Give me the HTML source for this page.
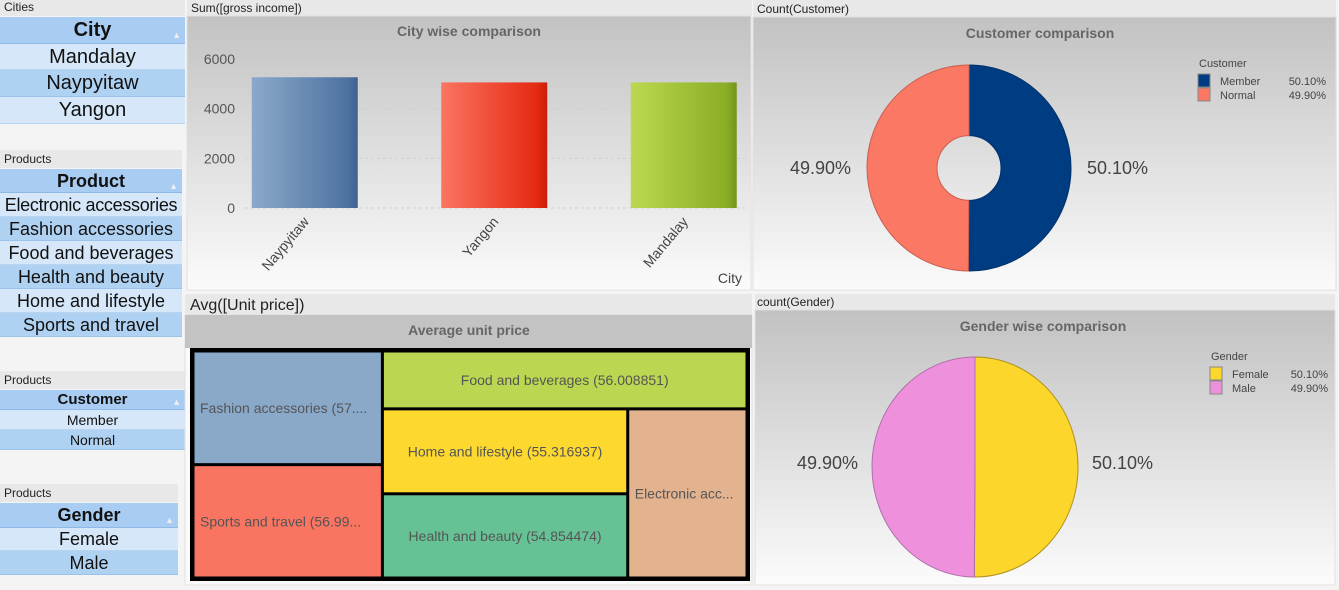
<!DOCTYPE html>
<html><head><meta charset="utf-8">
<style>
body{margin:0;width:1339px;height:590px;overflow:hidden;background:#f4f4f4;font-family:"Liberation Sans",sans-serif;position:relative}
.a{position:absolute;box-sizing:border-box}
.cap{font-size:12px;color:#222;background:#e8e8e8;padding-left:4px;line-height:15px}
.lb{text-align:center;color:#111;white-space:nowrap;overflow:hidden}
.hd{background:#a9cdf2;font-weight:bold;border-bottom:1px solid #8fb8e6}
.l1{background:#d5e7f8;border-bottom:1px solid #b9d4ef}
.l2{background:#b0d2f2;border-bottom:1px solid #9cc2ea}
.arr{position:absolute;right:4px;top:5px;font-size:9px;color:#eee;font-weight:normal}
</style></head><body>
<div class="a cap" style="left:0;top:0;width:185px;height:16px">Cities</div>
<div class="a lb hd" style="left:0;top:17px;width:185px;height:27px;font-size:20px;line-height:26px">City<span class="arr">▲</span></div>
<div class="a lb l1" style="left:0;top:44px;width:185px;height:26px;font-size:20px;line-height:26px">Mandalay</div>
<div class="a lb l2" style="left:0;top:70px;width:185px;height:27px;font-size:20px;line-height:27px">Naypyitaw</div>
<div class="a lb l1" style="left:0;top:97px;width:185px;height:27px;font-size:20px;line-height:27px">Yangon</div>
<div class="a cap" style="left:0;top:150px;width:182px;height:18px;line-height:18px">Products</div>
<div class="a lb hd" style="left:0;top:169px;width:182px;height:24px;font-size:18px;line-height:24px">Product<span class="arr">▲</span></div>
<div class="a lb l1" style="left:0;top:193px;width:182px;height:24px;font-size:18px;line-height:24px;letter-spacing:-0.3px">Electronic accessories</div>
<div class="a lb l2" style="left:0;top:217px;width:182px;height:24px;font-size:18px;line-height:24px">Fashion accessories</div>
<div class="a lb l1" style="left:0;top:241px;width:182px;height:24px;font-size:18px;line-height:24px">Food and beverages</div>
<div class="a lb l2" style="left:0;top:265px;width:182px;height:24px;font-size:18px;line-height:24px">Health and beauty</div>
<div class="a lb l1" style="left:0;top:289px;width:182px;height:24px;font-size:18px;line-height:24px">Home and lifestyle</div>
<div class="a lb l2" style="left:0;top:313px;width:182px;height:24px;font-size:18px;line-height:24px">Sports and travel</div>
<div class="a cap" style="left:0;top:371px;width:185px;height:18px;line-height:18px">Products</div>
<div class="a lb hd" style="left:0;top:390px;width:185px;height:20px;font-size:15px;line-height:19px">Customer<span class="arr" style="top:3px">▲</span></div>
<div class="a lb l1" style="left:0;top:410px;width:185px;height:20px;font-size:14px;line-height:20px">Member</div>
<div class="a lb l2" style="left:0;top:430px;width:185px;height:20px;font-size:14px;line-height:20px">Normal</div>
<div class="a cap" style="left:0;top:484px;width:178px;height:18px;line-height:18px">Products</div>
<div class="a lb hd" style="left:0;top:503px;width:178px;height:25px;font-size:18px;line-height:24px">Gender<span class="arr">▲</span></div>
<div class="a lb l1" style="left:0;top:528px;width:178px;height:23px;font-size:18px;line-height:23px">Female</div>
<div class="a lb l2" style="left:0;top:551px;width:178px;height:24px;font-size:18px;line-height:24px">Male</div>

<svg class="a" style="left:0;top:0" width="1339" height="590">
<defs>
<linearGradient id="bg" x1="0" y1="0" x2="0" y2="1"><stop offset="0" stop-color="#c2c2c2"/><stop offset="1" stop-color="#fbfbfb"/></linearGradient>
<linearGradient id="g0" x1="0" x2="1"><stop offset="0" stop-color="#8aa9cb"/><stop offset="0.9" stop-color="#4f73a0"/><stop offset="1" stop-color="#3f6190"/></linearGradient>
<linearGradient id="g1" x1="0" x2="1"><stop offset="0" stop-color="#fb7462"/><stop offset="0.9" stop-color="#e52a12"/><stop offset="1" stop-color="#c81e0a"/></linearGradient>
<linearGradient id="g2" x1="0" x2="1"><stop offset="0" stop-color="#bcd850"/><stop offset="0.9" stop-color="#8aae26"/><stop offset="1" stop-color="#74931d"/></linearGradient>
</defs>
<rect x="187" y="0" width="565" height="16" fill="#e8e8e8"/>
<text x="191" y="12" font-size="12" fill="#222">Sum([gross income])</text>
<rect x="187" y="16" width="564" height="274" fill="url(#bg)" stroke="#e0e0e0"/>
<text x="469" y="36" font-size="14" font-weight="bold" fill="#666" text-anchor="middle">City wise comparison</text>
<g id="barg"></g>
<text x="742" y="283" font-size="14" fill="#444" text-anchor="end">City</text>

<rect x="753" y="0" width="583" height="17" fill="#e8e8e8"/>
<text x="757" y="13" font-size="12" fill="#222">Count(Customer)</text>
<rect x="753" y="17" width="583" height="273" fill="url(#bg)" stroke="#e0e0e0"/>
<text x="1040" y="38" font-size="14" font-weight="bold" fill="#666" text-anchor="middle">Customer comparison</text>
<g id="donutg"></g>

<rect x="185" y="294" width="567" height="21" fill="#e8e8e8"/>
<text x="190" y="310" font-size="16" fill="#222">Avg([Unit price])</text>
<rect x="185" y="315" width="567" height="270" fill="#fafafa" stroke="#e0e0e0"/>
<rect x="185" y="315" width="567" height="33" fill="#c3c3c3"/>
<text x="469" y="335" font-size="14" font-weight="bold" fill="#666" text-anchor="middle">Average unit price</text>
<rect x="190" y="348" width="560" height="233" fill="#000"/>
<g id="treeg"></g>

<rect x="755" y="294" width="580" height="16" fill="#e8e8e8"/>
<text x="757" y="306" font-size="12" fill="#222">count(Gender)</text>
<rect x="755" y="310" width="580" height="275" fill="url(#bg)" stroke="#e0e0e0"/>
<text x="1043" y="331" font-size="14" font-weight="bold" fill="#666" text-anchor="middle">Gender wise comparison</text>
<g id="pieg"></g>
</svg>
<script>
const cities=["Naypyitaw","Yangon","Mandalay"];
const grossIncome=[5265.18,5057.16,5057.03];
const yTicks=[0,2000,4000,6000];
const customerCats=["Member","Normal"];
const customerCounts=[501,499];
const genderCats=["Female","Male"];
const genderCounts=[501,499];
const products=["Fashion accessories","Sports and travel","Food and beverages","Home and lifestyle","Health and beauty","Electronic accessories"];
const unitPrice=[57.153652,56.993253,56.008851,55.316937,54.854474,53.551588];

const NS="http://www.w3.org/2000/svg";
function mk(tag,attrs,parent){const e=document.createElementNS(NS,tag);for(const k in attrs)e.setAttribute(k,attrs[k]);parent.appendChild(e);return e;}

(function(){
 const g=document.getElementById('barg');
 const y0=208,yMax=6000,ph=149;
 const y=v=>y0-v/yMax*ph;
 const bandStart=210,band=189.5,bw=106;
 const x=i=>bandStart+i*band;
 yTicks.forEach(t=>{
  if(t>0&&t<yMax){const l=mk('line',{x1:245,x2:745,y1:y(t),y2:y(t),stroke:'#d0d0d0','stroke-dasharray':'3,3'},g);
  
  }
  const tx=mk('text',{x:235,y:y(t)+5,'font-size':14,fill:'#555','text-anchor':'end'},g);tx.textContent=t;
  
  
 });
 const base=mk('line',{x1:245,x2:745,y1:y0,y2:y0,stroke:'#d0d0d0','stroke-dasharray':'3,3'},g);
 
 
 cities.forEach((c,i)=>{
  const bx=x(i)+(band-bw)/2;
  const r=mk('rect',{x:bx,y:y(grossIncome[i]),width:bw,height:y0-y(grossIncome[i]),fill:'url(#g'+i+')'},g);
  
  
  const cx=bx+bw/2;
  const t=mk('text',{x:cx+5,y:y0+14,'font-size':14,fill:'#444','text-anchor':'end',transform:'rotate(-50 '+(cx+5)+' '+(y0+14)+')'},g);
  t.textContent=c;
  
  
 });
})();

function pie(gid,cats,vals,cx,cy,rx,ry,inner,colors,dark,labX,labY,legX,legY,legValX,legTitle,prefix){
 const g=document.getElementById(gid);
 const tot=vals.reduce((a,b)=>a+b,0);
 let a=0;
 vals.forEach((v,i)=>{
  const a1=a,a2=a+v/tot*2*Math.PI;a=a2;
  const p=(ang,k)=>[cx+Math.sin(ang)*rx*k,cy-Math.cos(ang)*ry*k];
  const [x1,y1]=p(a1,1),[x2,y2]=p(a2,1);
  const lg=(a2-a1)>Math.PI?1:0;
  let d='M'+x1+' '+y1+' A'+rx+' '+ry+' 0 '+lg+' 1 '+x2+' '+y2;
  if(inner>0){const k=inner/rx;const [x3,y3]=p(a2,k),[x4,y4]=p(a1,k);
   d+=' L'+x3+' '+y3+' A'+(rx*k)+' '+(ry*k)+' 0 '+lg+' 0 '+x4+' '+y4+' Z';}
  else d+=' L'+cx+' '+cy+' Z';
  const s=mk('path',{d:d,fill:colors[i],stroke:dark[i],'stroke-width':1},g);
  
  
  const pct=(v/tot*100).toFixed(2)+'%';
  const mid=(a1+a2)/2;
  const right=Math.sin(mid)>0;
  const t=mk('text',{x:right?cx+labX:cx-labX,y:cy+labY,'font-size':18,fill:'#444','text-anchor':right?'start':'end'},g);
  t.textContent=pct;
  
  
  const sw=mk('rect',{x:legX,y:legY+12+i*14,width:12,height:13,fill:colors[i],stroke:'#888'},g);
  
  
  const lt=mk('text',{x:legX+22,y:legY+23+i*14,'font-size':11,fill:'#444'},g);lt.textContent=cats[i];
  
  
  const lv=mk('text',{x:legValX,y:legY+23+i*14,'font-size':11,fill:'#444','text-anchor':'end'},g);lv.textContent=pct;
  
  
 });
 const tt=mk('text',{x:legX+1,y:legY+5,'font-size':11,fill:'#444'},g);tt.textContent=legTitle;
 
 
}
pie('donutg',customerCats,customerCounts,969,168,102,103,32,['#003c82','#fa7864'],['#00306a','#c86050'],118,6,1198,62,1326,'Customer','donut');
pie('pieg',genderCats,genderCounts,975,467,103,110,0,['#fdd62c','#ee90dc'],['#b09020','#b070a8'],117,2,1210,355,1328,'Gender','pie');

(function(){
 const g=document.getElementById('treeg');
 const colors=['#8aa9c9','#f97461','#bbd752','#fdd92f','#66c295','#e3b390'];
 const labels=["Fashion accessories (57....","Sports and travel (56.99...","","","","Electronic acc..."];
 const X=193,Y=351,W=554,H=227;
 const sum=a=>a.reduce((s,i)=>s+unitPrice[i],0);
 const all=[0,1,2,3,4,5];
 const rects={};
 const c1w=W*sum([0,1])/sum(all);
 const h0=H*unitPrice[0]/sum([0,1]);
 rects[0]=[X,Y,c1w,h0];rects[1]=[X,Y+h0,c1w,H-h0];
 const rx=X+c1w,rw=W-c1w;
 const fh=H*unitPrice[2]/sum([2,3,4,5]);
 rects[2]=[rx,Y,rw,fh];
 const ry=Y+fh,rh=H-fh;
 const cw=rw*sum([3,4])/sum([3,4,5]);
 const hh=rh*unitPrice[3]/sum([3,4]);
 rects[3]=[rx,ry,cw,hh];rects[4]=[rx,ry+hh,cw,rh-hh];
 rects[5]=[rx+cw,ry,rw-cw,rh];
 all.forEach(i=>{
  const [x,y,w,h]=rects[i];
  const r=mk('rect',{x:x+1.5,y:y+1.5,width:w-3,height:h-3,fill:colors[i]},g);
  
  
  const lab=labels[i]||(products[i]+' ('+unitPrice[i].toFixed(6)+')');
  const center=(i>=2&&i<=4);
  const t=mk('text',{x:center?x+w/2:x+7,y:y+h/2+5,'font-size':14,fill:'#555','text-anchor':center?'middle':'start'},g);
  t.textContent=lab;
  
  
 });
})();
</script>
</body></html>
